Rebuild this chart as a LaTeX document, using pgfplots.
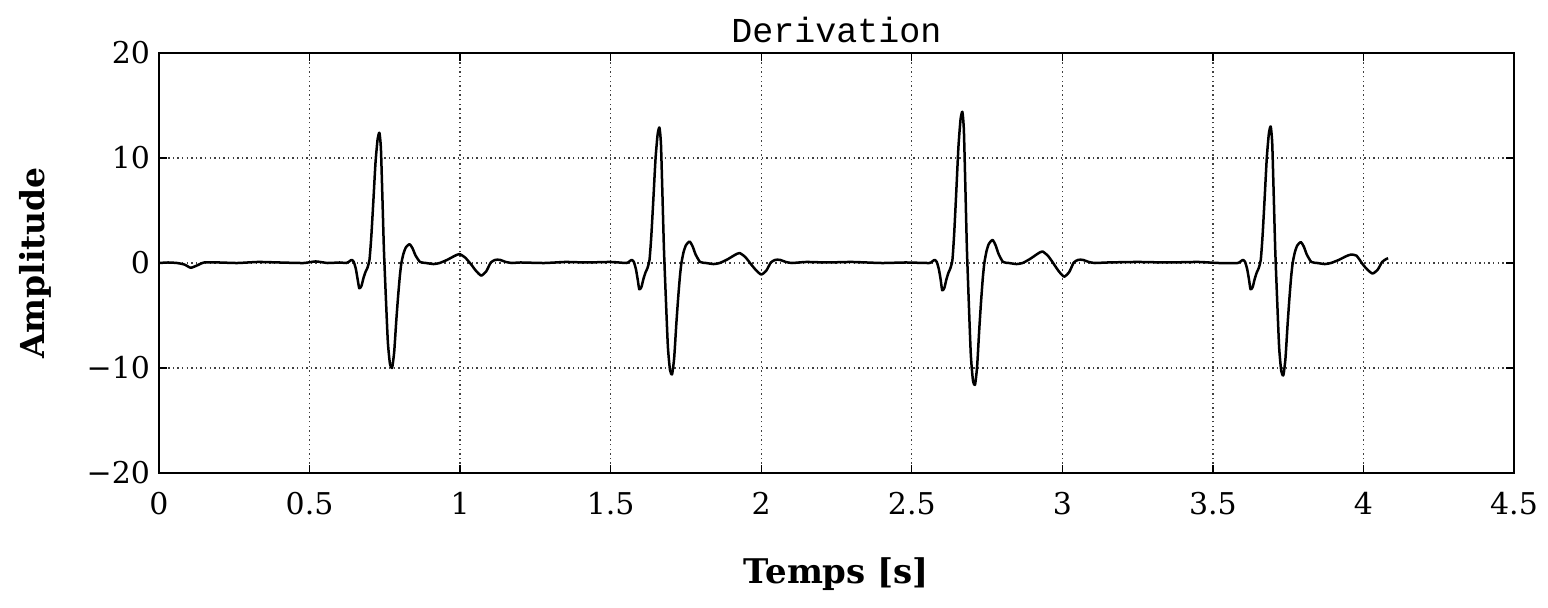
\documentclass[border=0pt]{standalone}
\usepackage{pgfplots}
\pgfplotsset{compat=1.18}
\usepackage{pgfplotstable}
\usepackage{fontspec}
\setmainfont{DejaVu Serif}
\newfontfamily\titlefont{Liberation Mono}

\pgfplotstableread{
t v
0 0
0.03 0.05
0.06 0.0
0.085 -0.15
0.105 -0.45
0.125 -0.25
0.15 0.05
0.2 0.05
0.26 0.0
0.33 0.1
0.4 0.05
0.48 0.0
0.52 0.15
0.56 0.0
0.6 0.05
0.622 0
0.632 0.15
0.640 0.3
0.647 0.1
0.654 -0.6
0.660 -1.6
0.665 -2.4
0.672 -2.21
0.679 -1.44
0.686 -0.84
0.692 -0.48
0.699 0.3
0.705 2.48
0.712 5.95
0.719 9.55
0.726 11.78
0.732 12.4
0.737 10.91
0.742 6.2
0.747 1.24
0.753 -3.0
0.760 -7.5
0.767 -9.6
0.774 -10.0
0.781 -8.5
0.788 -5.5
0.794 -3.2
0.800 -1.2
0.805 0
0.812 0.9
0.820 1.49
0.832 1.8
0.842 1.4
0.852 0.72
0.867 0.1
0.887 0
0.912 -0.1
0.932 0
0.957 0.3
0.982 0.68
0.998 0.85
1.017 0.51
1.037 -0.15
1.052 -0.72
1.070 -1.2
1.087 -0.78
1.102 0.05
1.117 0.3
1.132 0.3
1.152 0.1
1.172 0
1.2 0.05
1.28 0.0
1.35 0.1
1.42 0.05
1.5 0.1
1.552 0
1.562 0.15
1.570 0.3
1.577 0.1
1.584 -0.6
1.590 -1.6
1.595 -2.5
1.602 -2.3
1.609 -1.5
1.616 -0.88
1.622 -0.5
1.629 0.3
1.635 2.58
1.642 6.19
1.649 9.93
1.656 12.26
1.662 12.9
1.667 11.35
1.672 6.45
1.677 1.29
1.683 -3.18
1.690 -7.95
1.697 -10.18
1.704 -10.6
1.711 -9.01
1.718 -5.83
1.724 -3.39
1.730 -1.27
1.735 0
1.742 1.03
1.750 1.7
1.762 2.05
1.772 1.6
1.782 0.82
1.797 0.1
1.817 0
1.842 -0.1
1.862 0
1.887 0.33
1.912 0.76
1.928 0.95
1.947 0.57
1.967 -0.15
1.982 -0.66
2.000 -1.1
2.017 -0.72
2.032 0.05
2.047 0.3
2.062 0.3
2.082 0.1
2.102 0
2.15 0.1
2.22 0.05
2.3 0.1
2.4 0.0
2.48 0.05
2.558 0
2.568 0.15
2.576 0.3
2.583 0.1
2.590 -0.6
2.596 -1.6
2.601 -2.6
2.608 -2.39
2.615 -1.56
2.622 -0.91
2.628 -0.52
2.635 0.3
2.641 2.88
2.648 6.91
2.655 11.09
2.662 13.68
2.668 14.4
2.673 12.67
2.678 7.2
2.683 1.44
2.689 -3.48
2.696 -8.7
2.703 -11.14
2.710 -11.6
2.717 -9.86
2.724 -6.38
2.730 -3.71
2.736 -1.39
2.741 0
2.748 1.1
2.756 1.83
2.768 2.2
2.778 1.72
2.788 0.88
2.803 0.1
2.823 0
2.848 -0.1
2.868 0
2.893 0.39
2.918 0.88
2.934 1.1
2.953 0.66
2.973 -0.15
2.988 -0.78
3.006 -1.3
3.023 -0.85
3.038 0.05
3.053 0.3
3.068 0.3
3.088 0.1
3.108 0
3.15 0.05
3.25 0.1
3.35 0.05
3.45 0.1
3.52 0.0
3.582 0
3.592 0.15
3.600 0.3
3.607 0.1
3.614 -0.6
3.620 -1.6
3.625 -2.5
3.632 -2.3
3.639 -1.5
3.646 -0.88
3.652 -0.5
3.659 0.3
3.665 2.6
3.672 6.24
3.679 10.01
3.686 12.35
3.692 13.0
3.697 11.44
3.702 6.5
3.707 1.3
3.713 -3.21
3.720 -8.03
3.727 -10.27
3.734 -10.7
3.741 -9.1
3.748 -5.89
3.754 -3.42
3.760 -1.28
3.765 0
3.772 1.0
3.780 1.66
3.792 2.0
3.802 1.56
3.812 0.8
3.827 0.1
3.847 0
3.872 -0.1
3.892 0
3.917 0.28
3.942 0.64
3.958 0.8
3.977 0.7
3.997 -0.1
4.012 -0.6
4.030 -1.0
4.047 -0.65
4.062 0.1
4.077 0.4
4.082 0.45
}\ecg

\begin{document}
\begin{tikzpicture}
\path[use as bounding box] (-79.5pt,-67pt) rectangle (694.5pt,236.5pt);
\begin{axis}[
  at={(0pt,0pt)}, anchor=south west,
  scale only axis,
  width=677.5pt, height=210pt,
  xmin=0, xmax=4.5, ymin=-20, ymax=20,
  xtick={0,0.5,1,1.5,2,2.5,3,3.5,4,4.5},
  xticklabels={0,0.5,1,1.5,2,2.5,3,3.5,4,4.5},
  ytick={-20,-10,0,10,20},
  yticklabels={−20,−10,0,10,20},
  grid=major,
  major grid style={black!75, line width=0.7pt, dash pattern=on 0.7pt off 1.6pt},
  axis line style={black, line width=0.9pt},
  tick align=inside,
  major tick length=4pt,
  tick style={black, line width=0.7pt},
  ticklabel style={font=\fontsize{15}{17}\selectfont},
  xticklabel style={yshift=-6pt},
  yticklabel style={xshift=-1pt},
  /pgf/number format/assume math mode=true,
  every axis title shift=0pt,
  title={\titlefont\fontsize{17.5}{19}\selectfont Derivation},
  title style={at={(axis description cs:0.5,1.055)}, anchor=center},
  xlabel={\bfseries\fontsize{17}{19}\selectfont Temps [s]},
  xlabel style={at={(axis description cs:0.5,-0.24)}, anchor=center},
  ylabel={\bfseries\fontsize{16.5}{19}\selectfont Amplitude},
  ylabel style={at={(axis description cs:-0.0915,0.5)}, anchor=center, rotate=0},
]
\addplot[black, line width=1.25pt, line join=round, smooth, tension=0.35] table[x=t,y=v] {\ecg};
\end{axis}
\end{tikzpicture}
\end{document}
